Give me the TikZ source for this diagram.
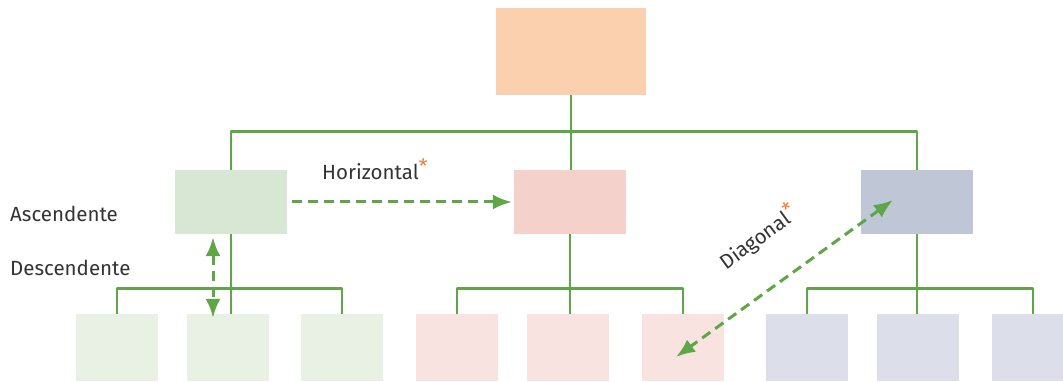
\documentclass[tikz,border=0pt]{standalone}
\usepackage{fontspec}
\setmainfont{Fira Sans}
\usetikzlibrary{arrows.meta}
\definecolor{linkgreen}{HTML}{5FA648}
\definecolor{topfill}{HTML}{FBD0AF}
\definecolor{greenmid}{HTML}{D8E7D4}
\definecolor{greenleaf}{HTML}{E9F1E5}
\definecolor{pinkmid}{HTML}{F5D1CC}
\definecolor{pinkleaf}{HTML}{F9E3E0}
\definecolor{bluemid}{HTML}{BFC6D6}
\definecolor{blueleaf}{HTML}{DCDFE9}
\definecolor{starorange}{HTML}{F07F3C}
\definecolor{textgray}{HTML}{333333}
\tikzset{
  every picture/.style={line join=round, >=Latex},
  box/.style={inner sep=0pt, minimum width=112pt, minimum height=64pt},
  leaf/.style={inner sep=0pt, minimum width=82pt, minimum height=67pt},
  link/.style={draw=linkgreen, line width=2.8pt},
  move/.style={draw=linkgreen, line width=3pt, dash pattern=on 10pt off 6pt,
    {Latex[length=19pt,width=15pt]}-{Latex[length=19pt,width=15pt]}},
  lbl/.style={inner sep=0pt, text=textgray, font=\fontsize{20.5}{24}\selectfont},
}
\newcommand{\orangestar}{\textcolor{starorange}{\raisebox{0.3em}{\fontsize{20}{20}\selectfont*}}}
\begin{document}
\begin{tikzpicture}[x=1pt,y=-1pt]
\useasboundingbox (0,0) rectangle (1063,382);
% boxes
\node[inner sep=0pt, minimum width=150pt, minimum height=87pt, fill=topfill] (top) at (571,51.5) {};
\node[box, fill=greenmid] (ga) at (231,202) {};
\node[box, fill=pinkmid] (pa) at (570,202) {};
\node[box, fill=bluemid] (ba) at (917,202) {};
\node[leaf, fill=greenleaf] (gl1) at (117,347.5) {};
\node[leaf, fill=greenleaf] (gl2) at (228,347.5) {};
\node[leaf, fill=greenleaf] (gl3) at (342,347.5) {};
\node[leaf, fill=pinkleaf] (pl1) at (457,347.5) {};
\node[leaf, fill=pinkleaf] (pl2) at (568,347.5) {};
\node[leaf, fill=pinkleaf] (pl3) at (683,347.5) {};
\node[leaf, fill=blueleaf] (bl1) at (807,347.5) {};
\node[leaf, fill=blueleaf] (bl2) at (918,347.5) {};
\node[leaf, fill=blueleaf] (bl3) at (1033,347.5) {};
% tree lines
\draw[link] (ga.north) -- ++(0,-38) -| (ba.north);
\draw[link] (top.south) -- (top.south |- pa.north);
\draw[link] (gl1.north) -- ++(0,-25) -| (gl3.north);
\draw[link] (ga.south) -- (ga.south |- gl2.north);
\draw[link] (pl1.north) -- ++(0,-25) -| (pl3.north);
\draw[link] (pa.south) -- (pa.south |- pl2.north);
\draw[link] (bl1.north) -- ++(0,-25) -| (bl3.north);
\draw[link] (ba.south) -- (ba.south |- bl2.north);
% moves
\draw[move, {Latex[length=19pt,width=15pt]}-] ([xshift=-2pt]pa.west) -- ([xshift=2pt]ga.east);
\draw[move] ([xshift=-18pt,yshift=-3pt]ga.south) -- ([xshift=-15pt,yshift=-4pt]gl2.north);
\draw[move] ([xshift=-24pt,yshift=2pt]ba.center) -- ([xshift=-7pt,yshift=-9.5pt]pl3.center);
% labels
\node[lbl, anchor=base west] (hor) at (322,180) {Horizontal\orangestar};
\node[lbl, anchor=base west] (asc) at (10,222) {Ascendente};
\node[lbl, anchor=base west] (desc) at (10,276) {Descendente};
\node[lbl, rotate=36] (diag) at (758,237) {Diagonal\orangestar};
\end{tikzpicture}
\end{document}
